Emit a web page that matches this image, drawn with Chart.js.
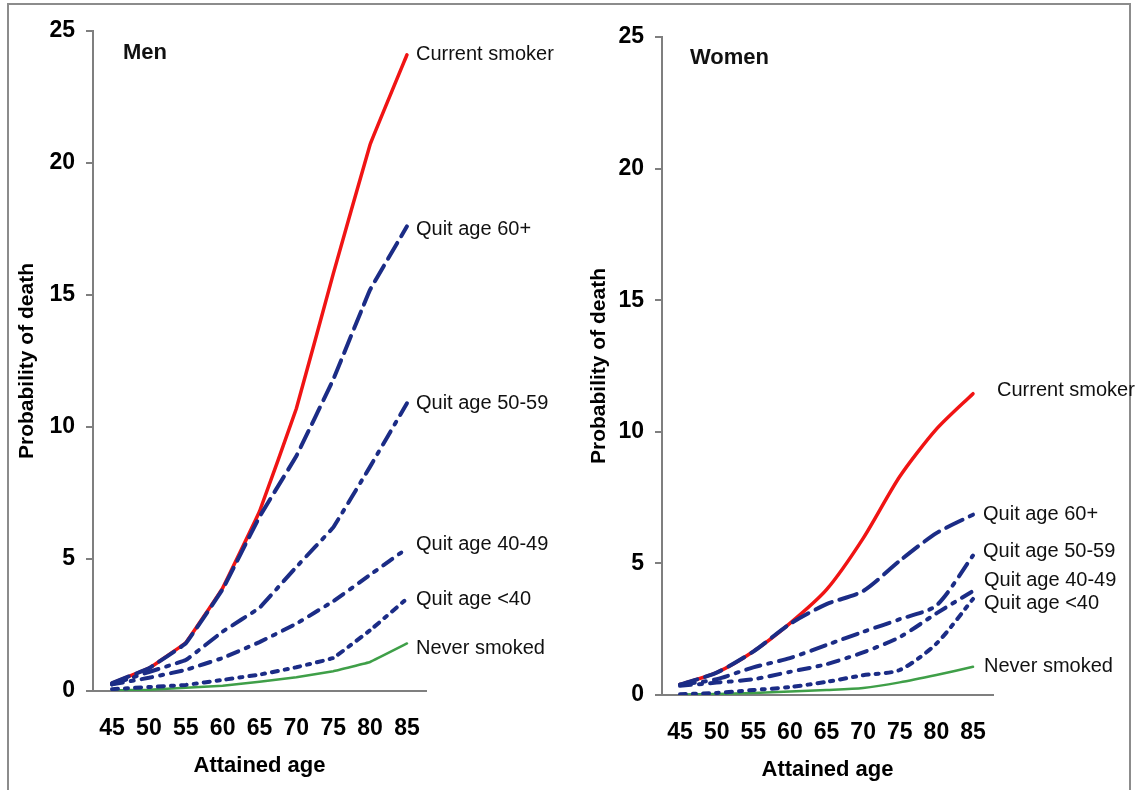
<!DOCTYPE html>
<html>
<head>
<meta charset="utf-8">
<script src="https://cdn.jsdelivr.net/npm/chart.js@4.4.1/dist/chart.umd.min.js"></script>
<style>
html,body{margin:0;padding:0;background:#fff;}
body{width:1136px;height:790px;position:relative;overflow:hidden;}
#frame{position:absolute;left:7px;top:3px;width:1120px;height:820px;border:2px solid #8c8c8c;}
.panel{position:absolute;top:0;width:568px;height:790px;}
</style>
</head>
<body>
<div id="frame"></div>
<div class="panel" style="left:0"><canvas id="men"></canvas></div>
<div class="panel" style="left:568px"><canvas id="women"></canvas></div>
<script>

/* =========================
   DATA
========================= */

const ages = [45,50,55,60,65,70,75,80,85]
const yTicks = [0,5,10,15,20,25]

const seriesNames = ["Current smoker","Quit age 60+","Quit age 50-59","Quit age 40-49","Quit age <40","Never smoked"]

const menCurrent = [0.3,0.86,1.83,3.9,6.8,10.7,15.8,20.7,24.1]
const menQuit60 = [0.3,0.86,1.8,3.85,6.6,8.9,11.8,15.2,17.6]
const menQuit50 = [0.25,0.72,1.17,2.25,3.15,4.7,6.2,8.5,10.9]
const menQuit40 = [0.25,0.5,0.8,1.25,1.85,2.55,3.4,4.4,5.4]
const menQuitUnder40 = [0.07,0.15,0.23,0.42,0.62,0.9,1.25,2.3,3.5]
const menNever = [0.02,0.05,0.12,0.2,0.35,0.52,0.75,1.1,1.8]

const womenCurrent = [0.4,0.85,1.65,2.72,4.0,5.95,8.3,10.1,11.45]
const womenQuit60 = [0.4,0.85,1.65,2.7,3.45,3.95,5.1,6.15,6.85]
const womenQuit50 = [0.38,0.6,1.05,1.4,1.9,2.4,2.88,3.4,5.3]
const womenQuit40 = [0.35,0.47,0.6,0.88,1.17,1.62,2.2,3.1,3.95]
const womenQuitUnder40 = [0.03,0.08,0.19,0.3,0.5,0.75,0.95,1.95,3.65]
const womenNever = [0.02,0.04,0.08,0.13,0.19,0.27,0.48,0.76,1.07]

/* =========================
   STYLES
========================= */

const FONT = "'Liberation Sans', Arial, Helvetica, sans-serif"
const NAVY = "#1b2c86"
const AXIS = "#7f7f7f"

const lineStyles = [
{color:"#f01414",width:3.5,dash:[]},
{color:NAVY,width:4,dash:[18,8]},
{color:NAVY,width:4,dash:[15,8,3,8]},
{color:NAVY,width:4,dash:[11,8,3,8]},
{color:NAVY,width:4,dash:[6,7,3,7]},
{color:"#3f9f48",width:2.5,dash:[]}
]

/* end labels + panel title */
const endLabels = {
id:"endLabels",
afterDatasetsDraw(chart,args,opts){
let ctx = chart.ctx
let xs = chart.scales.x
let ys = chart.scales.y
ctx.save()
ctx.fillStyle = "#111"
ctx.textBaseline = "middle"
ctx.textAlign = "left"
ctx.font = "20px " + FONT
chart.data.datasets.forEach((ds,i)=>{
let last = ds.data.length-1
let x = xs.getPixelForValue(ages[last]) + opts.dx[i]
let y = ys.getPixelForValue(ds.data[last]) + opts.dy[i]
ctx.fillText(ds.label,x,y)
})
ctx.font = "bold 22px " + FONT
ctx.fillText(opts.title,chart.chartArea.left+opts.tx,chart.chartArea.top+opts.ty)
ctx.restore()
}
}

function makeChart(id,series,cfg){

let datasets = series.map((vals,i)=>({
label:seriesNames[i],
data:vals,
borderColor:lineStyles[i].color,
borderWidth:lineStyles[i].width,
borderDash:lineStyles[i].dash,
borderCapStyle:"round",
pointRadius:0,
tension:cfg.tension,
fill:false
}))

/* navy dashes sit on top of the red line */
datasets[0].order = 10

return new Chart(document.getElementById(id),{
type:"line",
data:{labels:ages,datasets:datasets},
plugins:[endLabels],
options:{
responsive:true,
maintainAspectRatio:false,
animation:false,
layout:{padding:{top:cfg.top,right:cfg.right,left:0,bottom:0}},
plugins:{
legend:{display:false},
tooltip:{enabled:false},
endLabels:{dx:cfg.dx,dy:cfg.dy,title:cfg.title,tx:cfg.tx,ty:cfg.ty}
},
scales:{
x:{
type:"linear",
min:cfg.xmin,
max:cfg.xmax,
afterBuildTicks:s=>{ s.ticks = ages.map(v=>({value:v})) },
afterFit:s=>{ s.height = cfg.xh },
grid:{display:false,drawTicks:false},
border:{display:true,color:AXIS,width:2},
ticks:{color:"#000",padding:24,maxRotation:0,autoSkip:false,font:{family:FONT,size:23,weight:"bold"}},
title:{display:true,text:"Attained age",color:"#000",padding:{top:0,bottom:cfg.xtp},font:{family:FONT,size:22,weight:"bold"}}
},
y:{
min:0,
max:25,
afterBuildTicks:s=>{ s.ticks = yTicks.map(v=>({value:v})) },
afterFit:s=>{ s.width = cfg.yw },
grid:{display:true,drawOnChartArea:false,drawTicks:true,tickLength:7,color:AXIS,lineWidth:2},
border:{display:true,color:AXIS,width:2},
ticks:{color:"#000",padding:11,font:{family:FONT,size:23,weight:"bold"}},
title:{display:true,text:"Probability of death",color:"#000",padding:{top:cfg.ytp,bottom:0},font:{family:FONT,size:21,weight:"bold"}}
}
}
}
})
}

makeChart("men",[menCurrent,menQuit60,menQuit50,menQuit40,menQuitUnder40,menNever],{
title:"Men",tx:30,ty:22,
top:31,right:142,yw:93,xh:99,xtp:11,ytp:15,
xmin:42.42,xmax:87.58,tension:0.05,
dx:[9,9,9,9,9,9],
dy:[0,3,0,-4,1,5]
})

makeChart("women",[womenCurrent,womenQuit60,womenQuit50,womenQuit40,womenQuitUnder40,womenNever],{
title:"Women",tx:28,ty:21,
top:37,right:143,yw:94,xh:95,xtp:7,ytp:19,
xmin:42.54,xmax:87.73,tension:0.25,
dx:[24,10,10,11,11,11],
dy:[-3,0,-4,-11,5,0]
})

</script>
</body>
</html>
